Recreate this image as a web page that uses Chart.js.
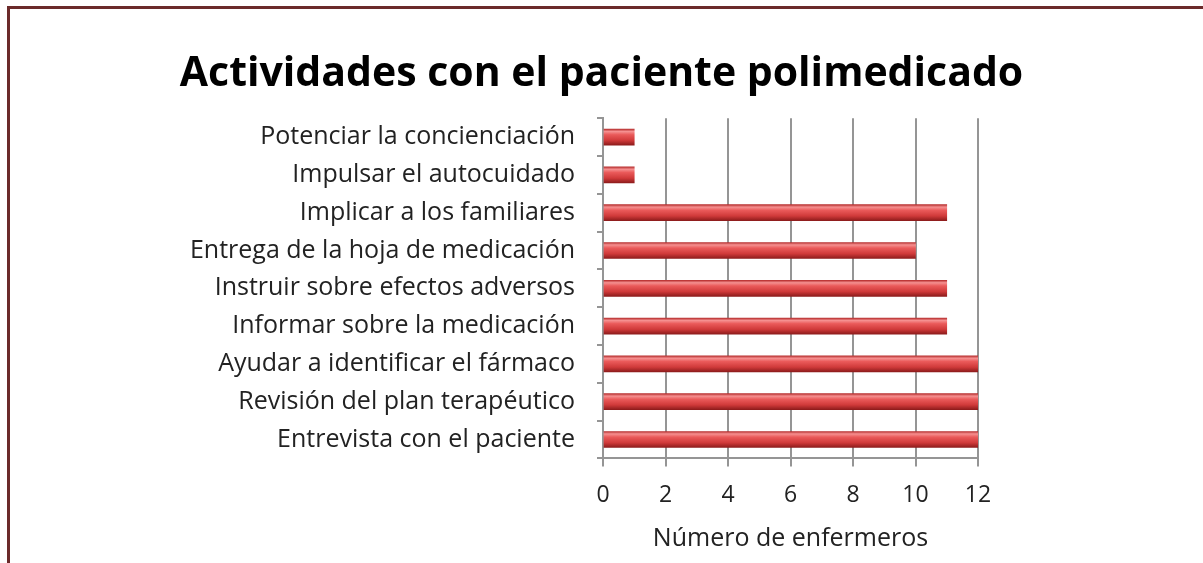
<!DOCTYPE html>
<html>
<head>
<meta charset="utf-8">
<script src="https://cdn.jsdelivr.net/npm/chart.js@4/dist/chart.umd.min.js"></script>
<style>
  html, body { margin: 0; padding: 0; background: #fff; }
  #wrap { position: relative; width: 1203px; height: 563px; overflow: hidden; }
  #frame {
    position: absolute; left: 7px; top: 6px; width: 1300px; height: 700px;
    border-top: 3px solid #6b2a2a; border-left: 3px solid #6b2a2a;
  }
  canvas { position: absolute; left: 0; top: 0; }
</style>
</head>
<body>
<div id="wrap">
  <div id="frame"></div>
  <canvas id="c" width="1203" height="563"></canvas>
</div>
<script>
  // datos (de arriba a abajo)
  const categorias = [
    "Potenciar la concienciación",
    "Impulsar el autocuidado",
    "Implicar a los familiares",
    "Entrega de la hoja de medicación",
    "Instruir sobre efectos adversos",
    "Informar sobre la medicación",
    "Ayudar a identificar el fármaco",
    "Revisión del plan terapéutico",
    "Entrevista con el paciente"
  ];
  const enfermeros = [1, 1, 11, 10, 11, 11, 12, 12, 12];
  const titulo = "Actividades con el paciente polimedicado";
  const tituloEjeX = "Número de enfermeros";

  const BAR_H = 16;
  const GRIS = "#959595";

  // degradado vertical de cada barra (efecto cilindro)
  function barGradient(ctx) {
    const chart = ctx.chart;
    if (!chart.chartArea || !chart.scales.y) return "#d84040";
    const yc = chart.scales.y.getPixelForValue(ctx.dataIndex);
    const y0 = yc - BAR_H / 2;
    const g = chart.ctx.createLinearGradient(0, y0, 0, y0 + BAR_H);
    g.addColorStop(0, "#b83030");
    g.addColorStop(0.15, "#f59090");
    g.addColorStop(0.35, "#ea5a5a");
    g.addColorStop(0.7, "#d03a3a");
    g.addColorStop(1, "#8e1c1c");
    return g;
  }

  new Chart(document.getElementById("c"), {
    type: "bar",
    data: {
      labels: categorias,
      datasets: [{
        data: enfermeros,
        backgroundColor: barGradient,
        borderWidth: 0,
        barThickness: BAR_H
      }]
    },
    options: {
      indexAxis: "y",
      responsive: false,
      animation: false,
      layout: { padding: { left: 0, right: 0, top: 0, bottom: 9 } },
      plugins: {
        legend: { display: false },
        tooltip: { enabled: false },
        title: {
          display: true,
          text: titulo,
          color: "#000",
          font: { family: "Open Sans", size: 41, weight: "bold" },
          padding: { top: 50, bottom: 19 }
        }
      },
      scales: {
        x: {
          min: 0, max: 12,
          ticks: {
            stepSize: 2, color: "#222", padding: 15,
            font: { family: "Open Sans", size: 23 }
          },
          grid: { color: GRIS, lineWidth: 2, tickLength: 8 },
          border: { color: GRIS, width: 2 },
          title: {
            display: true, text: tituloEjeX, color: "#222",
            font: { family: "Open Sans", size: 25 },
            padding: { top: 0, bottom: 0 }
          }
        },
        y: {
          afterFit: (s) => { s.width = 603; },
          ticks: {
            color: "#222", padding: 22,
            font: { family: "Open Sans", size: 25 }
          },
          grid: { drawOnChartArea: false, color: GRIS, lineWidth: 2, tickLength: 6, offset: true },
          border: { color: GRIS, width: 2 }
        },
        // eje vacío a la derecha para dejar el margen del original
        derecha: {
          type: "category",
          position: "right",
          afterFit: (s) => { s.width = 225; },
          ticks: { display: false },
          grid: { display: false },
          border: { display: false }
        }
      }
    }
  });
</script>
</body>
</html>
